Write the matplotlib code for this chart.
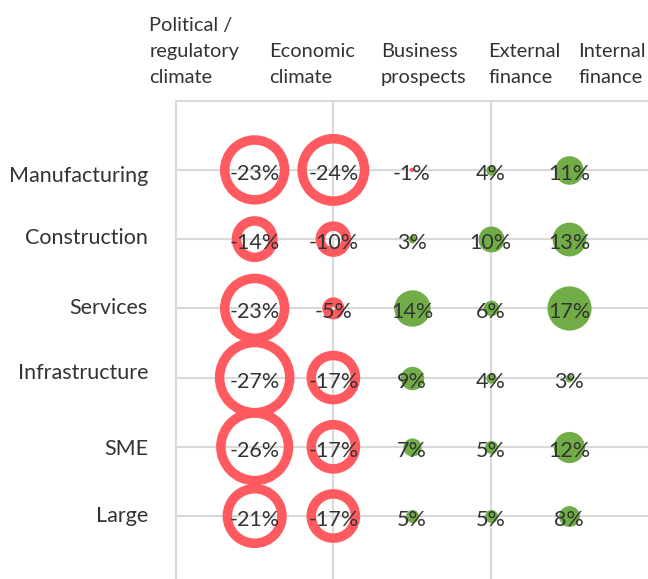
import matplotlib.pyplot as plt
import numpy as np

# %% Data

rows = ["Manufacturing", "Construction", "Services", "Infrastructure", "SME", "Large"]
cols = ["Political /\nregulatory\nclimate", "Economic\nclimate", "Business\nprospects",
        "External\nfinance", "Internal\nfinance"]

political = [-23, -14, -23, -27, -26, -21]
economic = [-24, -10, -5, -17, -17, -17]
business = [-1, 3, 14, 9, 7, 5]
external = [4, 10, 6, 4, 5, 5]
internal = [11, 13, 17, 3, 12, 8]

# %% Style

W, H, DPI = 648, 579, 100
red = "#FF5A5F"
green = "#70AD47"
grid_c = "#D9D9D9"
txt_c = "#333333"
font = "Lato"
fs = 15.5       # etiquettes et valeurs
fs_head = 14.4  # en-tetes de colonnes
px = 72 / DPI   # points par pixel

plt.rcParams["font.family"] = [font, "DejaVu Sans"]

fig = plt.figure(figsize=(W / DPI, H / DPI), dpi=DPI)
ax = fig.add_axes([176 / W, 0, 1 - 176 / W, 1 - 100.7 / H])

ax.set_xlim(-1, 5)
ax.set_ylim(5.91, -1)

# grille
ax.set_xticks([1, 3])
ax.set_yticks(range(len(rows)))
ax.grid(True, color=grid_c, lw=1.5)
ax.tick_params(length=0, labelbottom=False, labelleft=False)
for s in ["right", "bottom"]:
    ax.spines[s].set_visible(False)
for s in ["left", "top"]:
    ax.spines[s].set_color(grid_c)
    ax.spines[s].set_linewidth(1.5)
ax.set_axisbelow(True)

# %% Bulles

data = np.array([political, economic, business, external, internal]).T  # lignes x colonnes
for i in range(data.shape[0]):
    for j in range(data.shape[1]):
        v = data[i, j]
        r = 1.3 * abs(v)   # rayon en pixels
        if v < 0:
            lw = min(9.5, 1.4 * r)
            ax.scatter(j, i, s=(2 * r * px) ** 2, facecolors="none",
                       edgecolors=red, linewidths=lw * px, zorder=3)
        else:
            ax.scatter(j, i, s=(2 * r * px) ** 2, color=green,
                       linewidths=0, zorder=3)
        ax.annotate(f"{v}%", (j, i), xytext=(0, -10), textcoords="offset pixels",
                    ha="center", va="baseline", fontsize=fs, color=txt_c, zorder=4)

# %% Etiquettes

label_dy = [12.3, 4.8, 5.7, 1.5, 8.3, 5.7]   # decalage de la ligne de base (px)
for i, name in enumerate(rows):
    ax.annotate(name, (-1, i), xytext=(-28, -label_dy[i]), textcoords="offset pixels",
                ha="right", va="baseline", fontsize=fs, color=txt_c,
                annotation_clip=False)

head_x = [149.3, 269.3, 380.7, 488.3, 578.3]
for x0, name in zip(head_x, cols):
    lines = name.split("\n")
    for k, line in enumerate(lines):
        yb = 83.3 - 26.3 * (len(lines) - 1 - k)
        fig.text(x0 / W, 1 - yb / H, line, ha="left", va="baseline",
                 fontsize=fs_head, color=txt_c)

fig.savefig("out.png", dpi=DPI)
